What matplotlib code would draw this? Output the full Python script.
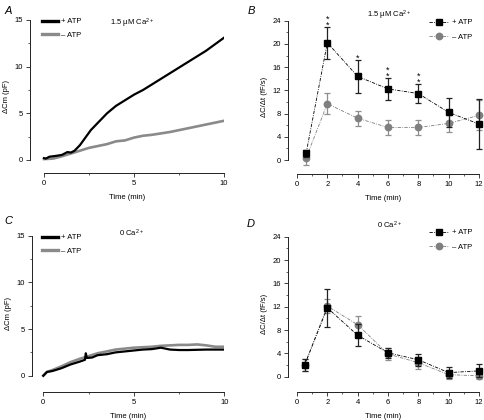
import numpy as np
import matplotlib
matplotlib.use('Agg')
import matplotlib.pyplot as plt

plt.rcParams['font.family'] = ['Liberation Sans', 'DejaVu Sans']
plt.rcParams['mathtext.fontset'] = 'custom'
plt.rcParams['mathtext.rm'] = 'Liberation Sans'
plt.rcParams['mathtext.it'] = 'Liberation Sans:italic'
plt.rcParams['font.size'] = 5.5

# --- panel A: capacitance traces, 1.5 uM Ca2+ ---
a_t_plus = [0, 0.1, 0.3, 0.5, 0.7, 1.0, 1.3, 1.5, 1.7, 2.0, 2.3, 2.6, 3.0, 3.5, 4.0, 4.5,
            5.0, 5.5, 6.0, 6.5, 7.0, 7.5, 8.0, 8.5, 9.0, 9.5, 10.0]
a_plus = [0.2, 0.15, 0.35, 0.4, 0.45, 0.55, 0.85, 0.8, 1.0, 1.6, 2.4, 3.2, 4.0, 5.0, 5.8, 6.4,
          7.0, 7.5, 8.1, 8.7, 9.3, 9.9, 10.5, 11.1, 11.7, 12.4, 13.1]
a_t_minus = [0, 0.5, 1.0, 1.5, 2.0, 2.5, 3.0, 3.5, 4.0, 4.5, 5.0, 5.5, 6.0, 6.5, 7.0,
             7.5, 8.0, 8.5, 9.0, 9.5, 10.0]
a_minus = [0.1, 0.15, 0.4, 0.7, 1.0, 1.3, 1.5, 1.7, 2.0, 2.1, 2.4, 2.6, 2.7, 2.85, 3.0,
           3.2, 3.4, 3.6, 3.8, 4.0, 4.2]

# --- panel C: capacitance traces, 0 Ca2+ ---
c_t_plus = [0, 0.2, 0.5, 1.0, 1.5, 2.0, 2.3, 2.35, 2.4, 2.7, 3.0, 3.5, 4.0, 4.5, 5.0, 5.5,
            6.0, 6.5, 7.0, 7.5, 8.0, 9.0, 10.0]
c_plus = [0.0, 0.4, 0.5, 0.8, 1.2, 1.5, 1.7, 2.4, 1.9, 1.95, 2.2, 2.3, 2.5, 2.6, 2.7, 2.8,
          2.85, 3.0, 2.8, 2.75, 2.75, 2.8, 2.8]
c_t_minus = [0, 0.2, 0.5, 1.0, 1.5, 2.0, 2.5, 3.0, 3.5, 4.0, 4.5, 5.0, 5.5, 6.0, 6.5,
             7.0, 7.5, 8.0, 8.5, 9.0, 9.5, 10.0]
c_minus = [0.0, 0.4, 0.6, 1.0, 1.45, 1.8, 2.1, 2.4, 2.6, 2.8, 2.9, 3.0, 3.05, 3.1, 3.2,
           3.25, 3.3, 3.3, 3.35, 3.25, 3.1, 3.1]

# --- panels B / D: rate of capacitance change ---
rate_t = [0.6, 2, 4, 6, 8, 10, 12]
b_plus = [1.15, 20.2, 14.4, 12.25, 11.45, 8.2, 6.2]
b_plus_err = [0.6, 2.8, 2.8, 1.9, 1.7, 2.5, 4.3]
b_minus = [0.35, 9.7, 7.2, 5.6, 5.6, 6.3, 7.7]
b_minus_err = [1.2, 1.8, 1.3, 1.25, 1.25, 1.5, 2.6]
b_sig = ['', '**', '*', '**', '**', '', '']

d_t = [0.5, 2, 4, 6, 8, 10, 12]
d_plus = [2.0, 11.8, 7.1, 4.1, 2.9, 0.7, 1.0]
d_plus_err = [1.1, 3.3, 1.9, 0.9, 1.0, 1.0, 1.1]
d_minus = [2.0, 12.1, 8.9, 3.9, 2.4, 0.35, 0.15]
d_minus_err = [1.0, 1.2, 1.5, 1.0, 1.0, 0.8, 0.6]

W, H = 485, 420
fig = plt.figure(figsize=(W / 100, H / 100), dpi=100)


def make_axes(xmax, ymax, x0px, x1px, y0px, y1px, leftpx, botpx, xmaj, xmin, ymaj, ymin):
    # place the axes so that data 0 / max land on the given pixels and the
    # (detached) spines sit at leftpx / botpx
    sx = (x1px - x0px) / xmax
    sy = (y0px - y1px) / ymax
    ax = fig.add_axes([leftpx / W, 1 - botpx / H, (x1px - leftpx) / W, (botpx - y1px) / H])
    ax.set_xlim(-(x0px - leftpx) / sx, xmax)
    ax.set_ylim(-(botpx - y0px) / sy, ymax)
    for s in ['top', 'right']:
        ax.spines[s].set_visible(False)
    ax.spines['left'].set_bounds(0, ymax)
    ax.spines['bottom'].set_bounds(0, xmax)
    for s in ['left', 'bottom']:
        ax.spines[s].set_linewidth(0.7)
        ax.spines[s].set_color('#222222')
    ax.set_xticks(np.arange(0, xmax + 0.01, xmaj))
    ax.set_yticks(np.arange(0, ymax + 0.01, ymaj))
    ax.set_xticks(np.arange(0, xmax + 0.01, xmin), minor=True)
    ax.set_yticks(np.arange(0, ymax + 0.01, ymin), minor=True)
    ax.set_xticklabels([f'{v:g}' for v in np.arange(0, xmax + 0.01, xmaj)])
    ax.set_yticklabels([f'{v:g}' for v in np.arange(0, ymax + 0.01, ymaj)])
    ax.tick_params(which='major', length=3, width=0.6, pad=2, labelsize=5.5, color='#222222')
    ax.tick_params(which='minor', length=1.6, width=0.5, color='#222222')
    ax.patch.set_visible(False)
    return ax


def legend_px(ax, handles, labels, x, y, hl, sp):
    return ax.legend(handles, labels, loc='upper left', bbox_to_anchor=(x / W, 1 - y / H),
                     bbox_transform=fig.transFigure, frameon=False, handlelength=hl,
                     handletextpad=0.35, labelspacing=sp, borderpad=0, borderaxespad=0,
                     fontsize=5.5)


def trace_panel(ax, tp, yp, tm, ym, title, tx, ty, lx, ly):
    l1, = ax.plot(tp, yp, color='black', lw=1.6, zorder=3)
    l2, = ax.plot(tm, ym, color='#8a8a8a', lw=1.9, zorder=2)
    ax.set_xlabel('Time (min)', fontsize=5.5, labelpad=5)
    ax.set_ylabel('\u0394Cm (pF)', fontsize=5.5, labelpad=3)
    leg = legend_px(ax, [l1, l2], ['+ ATP', '\u2013 ATP'], lx, ly, 2.1, 0.8)
    for h in leg.get_lines():
        h.set_linewidth(2.4)
    fig.text(tx / W, 1 - ty / H, title, ha='center', va='center', fontsize=5.5)


def rate_panel(ax, t, yp, ep, ym, em, title, tx, ty, lx, ly, sig=None):
    dash = (0, (4, 1.5, 1, 1.5))
    gm = ax.errorbar(t, ym, yerr=em, color='#7f7f7f', ecolor='#8f8f8f', marker='o', ms=4.6,
                     ls=dash, lw=0.6, elinewidth=0.9, capsize=2.2, capthick=0.9,
                     clip_on=False, zorder=2)
    bp = ax.errorbar(t, yp, yerr=ep, color='black', ecolor='#222222', marker='s', ms=4.0,
                     ls=dash, lw=0.6, elinewidth=0.9, capsize=2.2, capthick=0.9,
                     clip_on=False, zorder=3)
    ax.set_xlabel('Time (min)', fontsize=5.5, labelpad=5)
    ax.set_ylabel('\u0394C/\u0394t (fF/s)', fontsize=5.5, labelpad=3)
    legend_px(ax, [bp[0], gm[0]], ['+ ATP', '\u2013 ATP'], lx, ly, 2.6, 0.95)
    fig.text(tx / W, 1 - ty / H, title, ha='center', va='center', fontsize=5.5)
    if sig:
        for x, y, e, s in zip(t, yp, ep, sig):
            if s:
                ax.text(x, y + e - 0.5, '\n'.join(s), ha='center', va='bottom',
                        fontsize=6.5, linespacing=0.55, clip_on=False, zorder=6)


axA = make_axes(10, 15, 44, 224, 160, 20, 30, 173, 5, 2.5, 5, 2.5)
trace_panel(axA, a_t_plus, a_plus, a_t_minus, a_minus, '1.5 \u00b5M Ca$^{2+}$', 132, 23,
            42, 18)
axB = make_axes(12, 24, 297, 479, 160, 20.7, 288, 174, 2, 1, 4, 2)
rate_panel(axB, rate_t, b_plus, b_plus_err, b_minus, b_minus_err,
           '1.5 \u00b5M Ca$^{2+}$', 389, 15, 429, 19, sig=b_sig)
axC = make_axes(10, 15, 43.3, 224.3, 375.7, 235.7, 32, 391.7, 5, 2.5, 5, 2.5)
trace_panel(axC, c_t_plus, c_plus, c_t_minus, c_minus, '0 Ca$^{2+}$', 131, 233,
            42, 234)
axD = make_axes(12, 24, 297, 479, 376.7, 236.7, 288, 391.7, 2, 1, 4, 2)
rate_panel(axD, d_t, d_plus, d_plus_err, d_minus, d_minus_err, '0 Ca$^{2+}$', 389, 225,
           429, 229)

for lab, x, y in [('A', 8, 11), ('B', 251, 11), ('C', 8, 221), ('D', 251, 224)]:
    fig.text(x / W, 1 - y / H, lab, style='italic', fontsize=8, ha='center', va='center')

fig.savefig('out.png', dpi=100)
